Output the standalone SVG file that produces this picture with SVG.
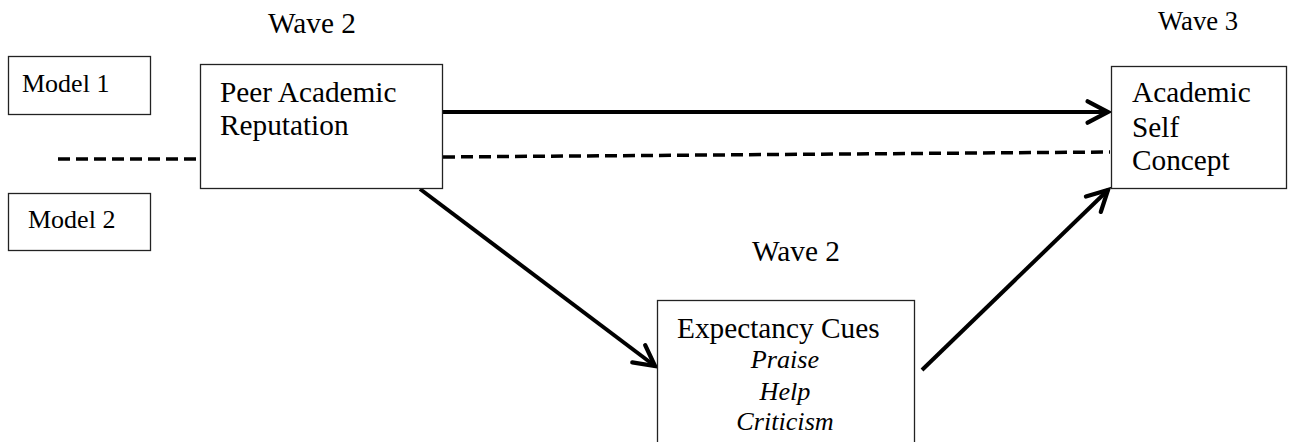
<svg xmlns="http://www.w3.org/2000/svg" width="1297" height="442" viewBox="0 0 1297 442">
<style>
text{font-family:"Liberation Serif","Times New Roman",serif;fill:#000}
.box{fill:#fff;stroke:#222;stroke-width:1.3}
.solid{stroke:#000;stroke-width:4;fill:none}
.dash{stroke:#000;stroke-width:3.5;fill:none;stroke-dasharray:12 6}
.t29{font-size:29.3px}
.t26{font-size:26px}
.t27{font-size:26.7px}
.it{font-style:italic;font-size:26.2px}
</style>
<defs>
<marker id="arr" markerUnits="userSpaceOnUse" markerWidth="30" markerHeight="30" viewBox="-24 -14 28 28" refX="0" refY="0" orient="auto">
<path d="M-19,-10 L0,0 L-19,10" fill="none" stroke="#000" stroke-width="4" stroke-linecap="round" stroke-linejoin="miter"/>
</marker>
</defs>
<g id="labels">
<text class="t29" x="268" y="33">Wave 2</text>
<text class="t27" x="1158" y="30">Wave 3</text>
<text class="t29" x="752" y="261">Wave 2</text>
</g>
<g id="connectors">
<line class="dash" x1="58" y1="159" x2="200" y2="159"/>
<line class="solid" x1="443" y1="112" x2="1108" y2="112" marker-end="url(#arr)"/>
<line class="dash" x1="443" y1="157" x2="1110" y2="152"/>
<line class="solid" x1="420" y1="189" x2="655" y2="366" marker-end="url(#arr)"/>
<line class="solid" x1="922" y1="370" x2="1108" y2="190" marker-end="url(#arr)"/>
</g>
<g id="model1">
<rect class="box" x="8.5" y="56.5" width="142" height="58"/>
<text class="t26" x="22" y="92">Model 1</text>
</g>
<g id="model2">
<rect class="box" x="8.5" y="193.5" width="142" height="57"/>
<text class="t26" x="28" y="228">Model 2</text>
</g>
<g id="peer">
<rect class="box" x="200.5" y="64.5" width="242" height="124"/>
<text class="t29" x="220" y="102">Peer Academic</text>
<text class="t29" x="220" y="135">Reputation</text>
</g>
<g id="asc">
<rect class="box" x="1111.5" y="66.5" width="175" height="122"/>
<text class="t29" x="1132" y="102">Academic</text>
<text class="t29" x="1132" y="137">Self</text>
<text class="t29" x="1132" y="170">Concept</text>
</g>
<g id="cues">
<rect class="box" x="657.5" y="300.5" width="257" height="150"/>
<text class="t29" x="677" y="338">Expectancy Cues</text>
<text class="it" x="785" y="368" text-anchor="middle">Praise</text>
<text class="it" x="785" y="400" text-anchor="middle">Help</text>
<text class="it" x="785" y="430" text-anchor="middle">Criticism</text>
</g>
</svg>
